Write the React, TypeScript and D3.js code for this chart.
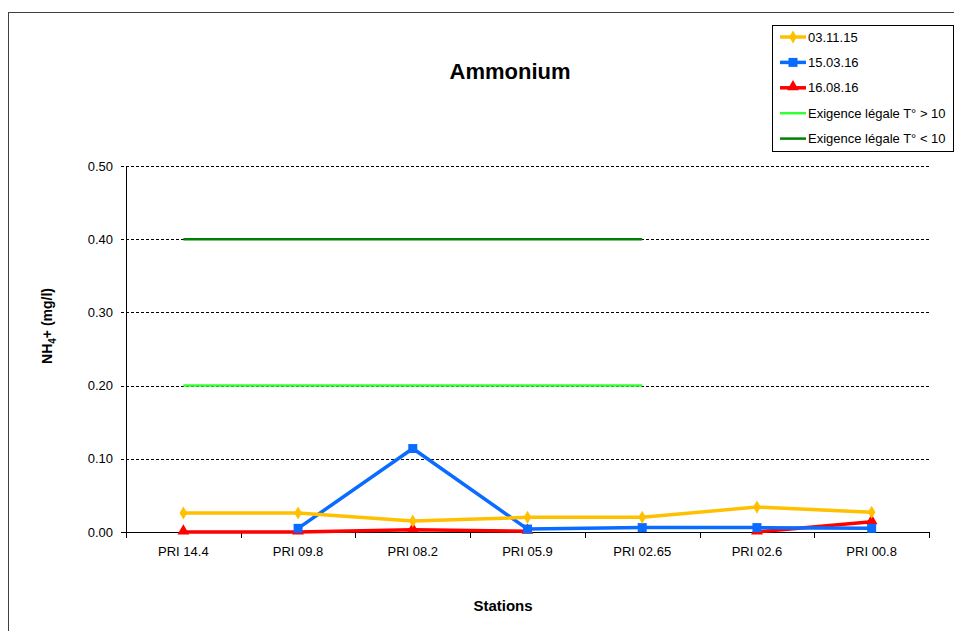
import React from "react";
import * as d3 from "d3";

const stations = ["PRI 14.4", "PRI 09.8", "PRI 08.2", "PRI 05.9", "PRI 02.65", "PRI 02.6", "PRI 00.8"];
const s031115: (number | null)[] = [0.026, 0.026, 0.015, 0.02, 0.02, 0.034, 0.027];
const s150316: (number | null)[] = [null, 0.005, 0.114, 0.004, 0.006, 0.006, 0.005];
const s160816: (number | null)[] = [0.0, 0.0, 0.003, 0.001, null, 0.0, 0.014];
const limitHigh: (number | null)[] = [0.2, 0.2, 0.2, 0.2, 0.2, null, null];
const limitLow: (number | null)[] = [0.4, 0.4, 0.4, 0.4, 0.4, null, null];
const yTicks = [0, 0.1, 0.2, 0.3, 0.4, 0.5];

const series = [
  { name: "03.11.15", values: s031115, color: "#FFC000", marker: "diamond", width: 3.5 },
  { name: "15.03.16", values: s150316, color: "#0A6CFF", marker: "square", width: 3.5 },
  { name: "16.08.16", values: s160816, color: "#FF0000", marker: "triangle", width: 3.5 },
  { name: "Exigence légale T° > 10", values: limitHigh, color: "#33FF33", marker: "none", width: 2.5 },
  { name: "Exigence légale T° < 10", values: limitLow, color: "#008000", marker: "none", width: 2.5 },
];

const FONT = "Arial, 'Liberation Sans', sans-serif";

function Marker({ type, x, y, color }: { type: string; x: number; y: number; color: string }) {
  if (type === "diamond") {
    const sym = d3.symbol(d3.symbolDiamond, 50)();
    return <path d={sym || ""} transform={`translate(${x},${y})`} fill={color} />;
  }
  if (type === "square") {
    return <rect x={x - 4.5} y={y - 4.5} width={9} height={9} fill={color} />;
  }
  if (type === "triangle") {
    const sym = d3.symbol(d3.symbolTriangle, 60)();
    return <path d={sym || ""} transform={`translate(${x},${y - 1})`} fill={color} />;
  }
  return null;
}

export default function App() {
  const left = 126, right = 929, top = 166, bottom = 532;
  const x = d3.scaleBand<string>().domain(stations).range([left, right]);
  const y = d3.scaleLinear().domain([0, 0.5]).range([bottom, top]);
  const cx = (s: string) => (x(s) as number) + x.bandwidth() / 2;

  const line = d3
    .line<number | null>()
    .defined((d) => d !== null)
    .x((_, i) => cx(stations[i]))
    .y((d) => y(d as number));

  const legendX = 772, legendY = 25;

  return (
    <svg
      width={954}
      height={631}
      style={{ position: "absolute", left: 0, top: 0, background: "#fff" }}
      fontFamily={FONT}
    >
      <rect x={8.5} y={12.5} width={1000} height={700} fill="#fff" stroke="#404040" strokeWidth={1} />
      <text x={510} y={79} textAnchor="middle" fontSize={22} fontWeight="bold">Ammonium</text>

      {yTicks.map((t) => (
        <g key={t}>
          <line x1={121} x2={right} y1={Math.round(y(t)) + 0.5} y2={Math.round(y(t)) + 0.5}
            stroke="#000" strokeWidth={1} strokeDasharray={t === 0 ? undefined : "3,2"} />
          <text x={113} y={y(t)} dy="0.35em" textAnchor="end" fontSize={13}>{t.toFixed(2)}</text>
        </g>
      ))}
      <line x1={left + 0.5} x2={left + 0.5} y1={top} y2={bottom + 0.5} stroke="#000" />
      <line x1={left} x2={right} y1={bottom + 0.5} y2={bottom + 0.5} stroke="#000" />
      {stations.concat([""]).map((s, i) => {
        const xx = Math.round(left + i * x.bandwidth()) + 0.5;
        return <line key={i} x1={xx} x2={xx} y1={bottom} y2={bottom + 6} stroke="#000" />;
      })}
      {stations.map((s) => (
        <text key={s} x={cx(s)} y={556} textAnchor="middle" fontSize={13}>{s}</text>
      ))}

      <text x={503} y={611} textAnchor="middle" fontSize={15} fontWeight="bold">Stations</text>
      <text transform="translate(52,326) rotate(-90)" textAnchor="middle" fontSize={14} fontWeight="bold">
        NH<tspan fontSize={10} dy={4}>4</tspan><tspan dy={-4}>+ (mg/l)</tspan>
      </text>

      {series.slice().reverse().map((s) => (
        <g key={s.name}>
          <path d={line(s.values) || ""} fill="none" stroke={s.color} strokeWidth={s.width} strokeLinejoin="round" />
          {s.values.map((v, i) =>
            v === null ? null : <Marker key={i} type={s.marker} x={cx(stations[i])} y={y(v)} color={s.color} />
          )}
        </g>
      ))}

      <rect x={legendX + 0.5} y={legendY + 0.5} width={181} height={126} fill="#fff" stroke="#000" />
      {series.map((s, i) => {
        const ly = legendY + 12 + i * 25.4;
        return (
          <g key={s.name}>
            <line x1={780} x2={806} y1={ly} y2={ly} stroke={s.color} strokeWidth={s.width} />
            <Marker type={s.marker} x={793} y={ly} color={s.color} />
            <text x={808} y={ly} dy="0.35em" fontSize={13}>{s.name}</text>
          </g>
        );
      })}
    </svg>
  );
}
